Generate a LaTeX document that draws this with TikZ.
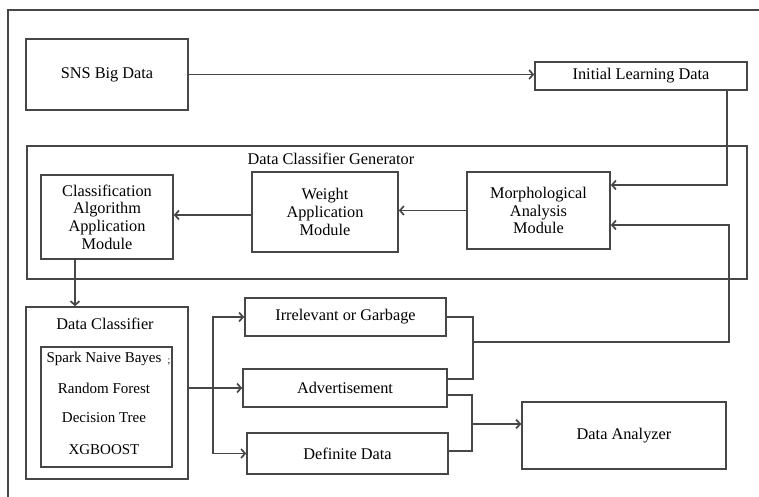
\documentclass[tikz,border=0pt]{standalone}
\usepackage{fontspec}
\setmainfont{Liberation Serif}
\usetikzlibrary{arrows.meta}
\begin{document}
\begin{tikzpicture}[x=1pt,y=-1pt,
  ln/.style={draw=black!72,line width=1.6pt},
  arr/.style={ln,-{Straight Barb[length=4pt,width=9pt,line width=1.7pt]}},
  box/.style={ln,rectangle,inner sep=0pt,align=center,font=\fontsize{16.3}{17.7}\selectfont},
  lbl/.style={inner sep=0pt,font=\fontsize{16.3}{17.7}\selectfont},
  item/.style={inner sep=0pt,font=\fontsize{15}{17}\selectfont}]
\useasboundingbox (0,0) rectangle (759,497);
% outer frame
\coordinate (fbl) at (8,497);
\coordinate (ftl) at (8,10);
\coordinate (ftr) at (759,10);
\draw[ln] (fbl) -- (ftl) -- (ftr);
% boxes
\node[box,minimum width=162pt,minimum height=71pt] (sns) at (107,74.5) {SNS Big Data};
\node[box,minimum width=212pt,minimum height=28pt] (ild) at (641,76) {Initial Learning Data};
\node[box,minimum width=720pt,minimum height=133pt] (dcg) at (387,212.5) {};
\node[lbl] (dcgl) at (331,159) {Data Classifier Generator};
\node[box,minimum width=132pt,minimum height=84pt] (caam) at (107,217) {Classification\\Algorithm\\Application\\Module};
\node[box,minimum width=146pt,minimum height=80pt] (wam) at (325,212) {Weight\\Application\\Module};
\node[box,minimum width=143pt,minimum height=77pt] (mam) at (538.5,210.5) {Morphological\\Analysis\\Module};
\node[box,minimum width=162pt,minimum height=172pt] (dc) at (107,393) {};
\node[lbl] (dcl) at (105,324) {Data Classifier};
\node[box,minimum width=131pt,minimum height=120pt] (inner) at (106.5,407) {};
\node[item] (i1) at (104,359) {Spark Naive Bayes};
\node[inner sep=0pt,font=\fontsize{10}{10}\selectfont] (semi) at (169,362) {;};
\node[item] (i2) at (104,388) {Random Forest};
\node[item] (i3) at (104,418) {Decision Tree};
\node[item] (i4) at (104,450) {XGBOOST};
\node[box,minimum width=201pt,minimum height=38pt] (irr) at (345.5,317) {Irrelevant or Garbage};
\node[box,minimum width=204pt,minimum height=38pt] (adv) at (345,388) {Advertisement};
\node[box,minimum width=201pt,minimum height=41pt] (def) at (347.5,453.5) {Definite Data};
\node[box,minimum width=204pt,minimum height=67pt] (da) at (624,435.5) {Data Analyzer};
% connectors
\draw[arr] (sns.east) -- (sns.east -| ild.west);
\coordinate (c1) at (727,185);
\draw[arr] (ild.south -| c1) -- (c1) -- (c1 -| mam.east);
\draw[arr] (mam.west) -- (mam.west -| wam.east);
\draw[arr] ([yshift=-3pt]wam.west) -- ([yshift=-3pt]wam.west -| caam.east);
\draw[arr] ([xshift=-32pt]caam.south) -- ([xshift=-32pt]caam.south |- dc.north);
\coordinate (c3) at (213,388);
\draw[arr] (dc.east |- adv.west) -- (adv.west);
\draw[arr] (c3) |- (irr.west);
\draw[arr] (c3) |- (def.west);
\coordinate (ja) at (473,317);
\coordinate (jb) at (473,379);
\coordinate (j1) at (473,342);
\coordinate (jr) at (729,342);
\coordinate (jm) at (729,225);
\draw[ln] (irr.east) -- (ja) -- (jb) -- (jb -| adv.east);
\draw[arr] (j1) -- (jr) -- (jm) -- (jm -| mam.east);
\coordinate (ka) at (472,395);
\coordinate (kb) at (472,451);
\coordinate (k1) at (472,424);
\draw[ln] (ka -| adv.east) -- (ka) -- (kb) -- (kb -| def.east);
\draw[arr] (k1) -- (k1 -| da.west);
\end{tikzpicture}
\end{document}
